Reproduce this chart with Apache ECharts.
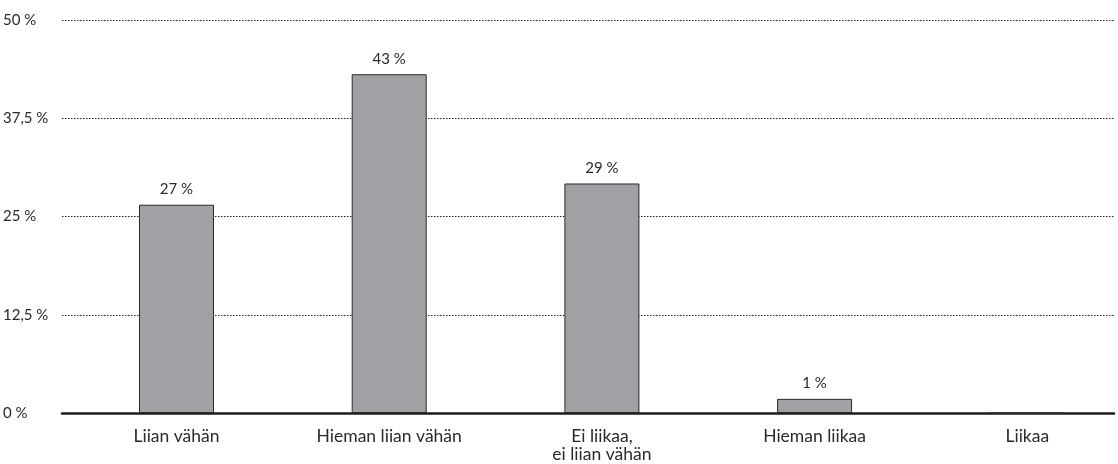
<!DOCTYPE html>
<html>
<head>
<meta charset="utf-8">
<script src="https://cdn.jsdelivr.net/npm/echarts@6/dist/echarts.min.js"></script>
<style>html,body{margin:0;padding:0;background:#fff}#c{width:1118px;height:464px}</style>
</head>
<body>
<div id="c"></div>
<script>
var categories = ["Liian vähän", "Hieman liian vähän", "Ei liikaa,\nei liian vähän", "Hieman liikaa", "Liikaa"];
var values = [26.5, 43.1, 29.2, 1.8, 0];
var valueLabels = ["27 %", "43 %", "29 %", "1 %", ""];
var yTicks = [0, 12.5, 25, 37.5, 50];
var yTickLabels = ["0 %", "12,5 %", "25 %", "37,5 %", "50 %"];

var FONT = "Lato, 'Open Sans', sans-serif";
var chart = echarts.init(document.getElementById('c'));
chart.setOption({
  animation: false,
  grid: [
    {left: 61, right: 4, top: 20, bottom: 51},
    {left: 176.5, right: 90.7, top: 20, bottom: 51}
  ],
  xAxis: [
    {gridIndex: 0, type: 'value', min: 0, max: 1, show: true,
     axisLine: {show: true, onZero: false, lineStyle: {color: '#1e1e1e', width: 2.5}},
     axisTick: {show: false}, axisLabel: {show: false}, splitLine: {show: false}},
    {gridIndex: 1, type: 'category', data: categories, boundaryGap: false,
     axisLine: {show: false}, axisTick: {show: false},
     axisLabel: {color: '#2a2a2a', fontFamily: FONT, fontSize: 17.5, margin: 14, lineHeight: 18, interval: 0}}
  ],
  yAxis: [
    {gridIndex: 0, type: 'value', min: 0, max: 50, interval: 12.5,
     axisLine: {show: false}, axisTick: {show: false},
     axisLabel: {color: '#2a2a2a', fontFamily: FONT, fontSize: 15, align: 'left', margin: 59,
       formatter: function (v) { var i = yTicks.indexOf(v); return i >= 0 ? yTickLabels[i] : ''; }},
     splitLine: {show: true, lineStyle: {type: [1.5, 1.5], color: '#222', width: 1}}},
    {gridIndex: 1, type: 'value', min: 0, max: 50, interval: 12.5, show: false}
  ],
  series: [{
    type: 'bar', xAxisIndex: 1, yAxisIndex: 1,
    data: values, barWidth: 75,
    itemStyle: {color: '#a0a1a5', borderColor: '#2a2a2a', borderWidth: 1},
    label: {show: true, position: 'top', distance: 8, color: '#2a2a2a', fontFamily: FONT, fontSize: 15,
      formatter: function (p) { return valueLabels[p.dataIndex]; }}
  }]
});
</script>
</body>
</html>
